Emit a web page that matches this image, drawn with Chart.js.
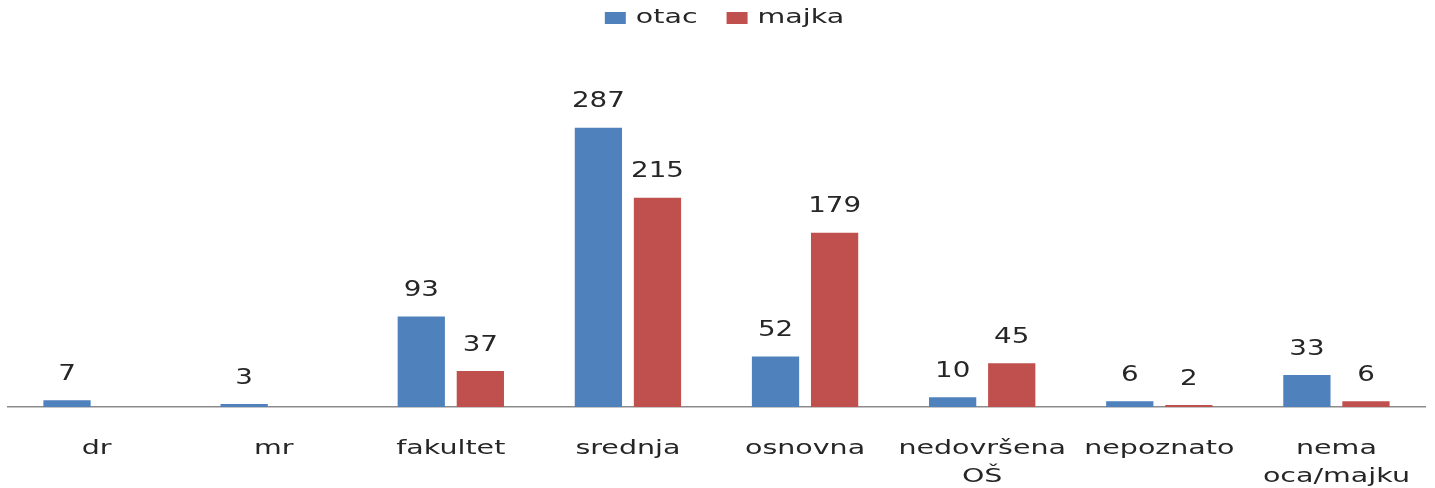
<!DOCTYPE html>
<html lang="hr">
<head>
  <meta charset="UTF-8" />
  <title>Obrazovanje roditelja</title>
  <script src="https://cdn.jsdelivr.net/npm/chart.js"></script>
  <style>
    html, body { margin: 0; padding: 0; background: #fff; }
    #wrap { width: 1435px; height: 488px; }
  </style>
</head>
<body>
  <div id="wrap"><canvas id="eduChart"></canvas></div>

  <script>
    // category labels (multi-line where the original wraps)
    const categories = [
      'dr', 'mr', 'fakultet', 'srednja', 'osnovna',
      ['nedovršena', 'OŠ'], 'nepoznato', ['nema', 'oca/majku']
    ];
    const otac  = [7, 3, 93, 287, 52, 10, 6, 33];
    const majka = [null, null, 37, 215, 179, 45, 2, 6];

    const FONT = '"DejaVu Sans"';
    const TEXT = '#262626';
    const BLUE = '#4F81BD';
    const RED = '#C0504D';

    // the original text is drawn wide, so stretch it horizontally
    function wideText(ctx, str, x, y, sx, align) {
      ctx.save();
      ctx.translate(x, y);
      ctx.scale(sx, 1);
      ctx.textAlign = align || 'center';
      ctx.fillText(str, 0, 0);
      ctx.restore();
    }

    // value labels, category labels and legend
    const textLayer = {
      id: 'textLayer',
      afterDraw(chart) {
        const ctx = chart.ctx;
        const area = chart.chartArea;
        ctx.save();
        ctx.fillStyle = TEXT;
        ctx.textBaseline = 'middle';

        // values above bars
        ctx.font = '22px ' + FONT;
        chart.data.datasets.forEach((ds, i) => {
          chart.getDatasetMeta(i).data.forEach((bar, j) => {
            const v = ds.data[j];
            if (v == null) return;
            wideText(ctx, String(v), bar.x, bar.y - 26, 1.26);
          });
        });

        // category labels under the axis
        const xs = chart.scales.x;
        ctx.font = '19px ' + FONT;
        ctx.textBaseline = 'alphabetic';
        chart.data.labels.forEach((lab, i) => {
          const lines = Array.isArray(lab) ? lab : [lab];
          const x = xs.getPixelForValue(i);
          lines.forEach((ln, k) => {
            wideText(ctx, ln, x, area.bottom + 47 + k * 28, 1.5);
          });
        });

        // legend
        ctx.font = '19px ' + FONT;
        ctx.textBaseline = 'middle';
        const items = chart.data.datasets.map(ds => ({
          label: ds.label, color: ds.backgroundColor,
          w: ctx.measureText(ds.label).width * 1.5
        }));
        const boxW = 21, boxH = 12, gapIn = 10, gapOut = 29;
        let total = 0;
        items.forEach((it, i) => {
          total += boxW + gapIn + it.w + (i ? gapOut : 0);
        });
        let x = chart.width / 2 + 7 - total / 2;
        const ly = 18;
        items.forEach((it, i) => {
          if (i) x += gapOut;
          ctx.fillStyle = it.color;
          ctx.fillRect(x, ly - boxH / 2, boxW, boxH);
          x += boxW + gapIn;
          ctx.fillStyle = TEXT;
          wideText(ctx, it.label, x, ly, 1.5, 'left');
          x += it.w;
        });
        ctx.restore();
      }
    };

    new Chart(document.getElementById('eduChart'), {
      type: 'bar',
      data: {
        labels: categories,
        datasets: [
          { label: 'otac', data: otac, backgroundColor: BLUE },
          { label: 'majka', data: majka, backgroundColor: RED }
        ]
      },
      options: {
        responsive: true,
        maintainAspectRatio: false,
        animation: false,
        categoryPercentage: 0.667,
        barPercentage: 0.8,
        layout: { padding: { left: 8, right: 10, top: 115, bottom: 0 } },
        plugins: {
          legend: { display: false },
          tooltip: { enabled: false }
        },
        scales: {
          x: {
            grid: { display: false, drawTicks: false },
            border: { color: '#8c8c8c', width: 1.5 },
            ticks: { display: false },
            afterFit(scale) { scale.height = 81; }
          },
          y: {
            display: false,
            min: 0,
            max: 300
          }
        }
      },
      plugins: [textLayer]
    });
  </script>
</body>
</html>
